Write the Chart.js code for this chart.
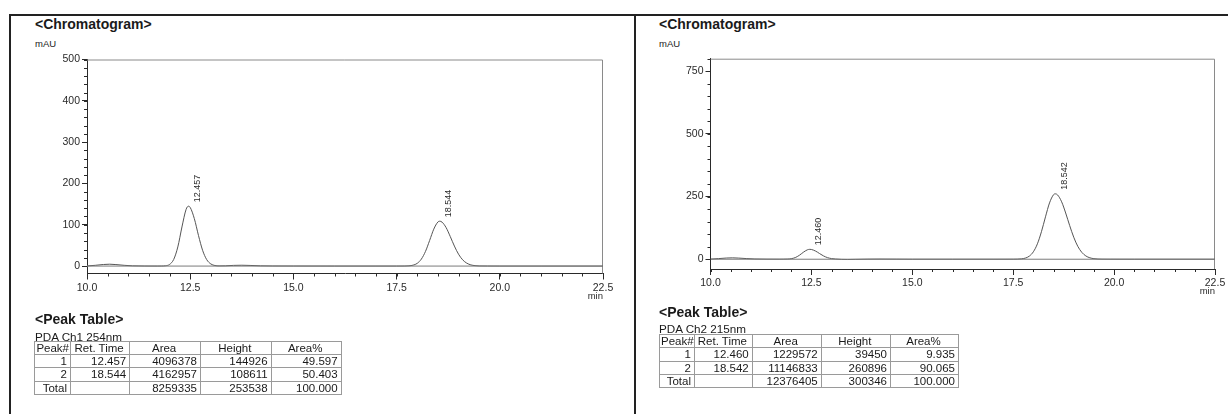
<!DOCTYPE html>
<html>
<head>
<meta charset="utf-8">
<script src="https://cdn.jsdelivr.net/npm/chart.js@4.4.1/dist/chart.umd.min.js"></script>
<style>
  html, body { margin: 0; padding: 0; background: #fff; }
  body {
    width: 1228px; height: 414px; position: relative; overflow: hidden;
    font-family: 'Liberation Sans', Arial, sans-serif; color: #1a1a1a;
  }
  .rule { position: absolute; background: #222; }
  .txt { position: absolute; white-space: nowrap; line-height: 1; }
  .h { font-size: 14px; font-weight: bold; }
  .unit { font-size: 9.5px; }
  .ch { font-size: 11.7px; }
  .chart { position: absolute; }
  table.peaks {
    position: absolute; border-collapse: collapse; table-layout: fixed;
    font-size: 11.5px; color: #1a1a1a;
  }
  table.peaks td {
    border: 1px solid #9a9a9a; height: 12.3px; line-height: 12px;
    padding: 0 3px 0 1px; text-align: right; white-space: nowrap; overflow: hidden;
  }
  table.peaks tr.head td { text-align: center; }
  table.peaks tr.head td:first-child { text-align: right; padding-right: 1px; }
</style>
</head>
<body>

<!-- page frame -->
<div class="rule" style="left:9px; top:14px; width:1219px; height:1.5px;"></div>
<div class="rule" style="left:9px; top:14px; width:1.5px; height:400px;"></div>
<div class="rule" style="left:634px; top:14px; width:1.5px; height:400px;"></div>

<!-- left panel -->
<div class="txt h" style="left:35px; top:16.5px;">&lt;Chromatogram&gt;</div>
<div class="txt unit" style="left:35px; top:38.7px;">mAU</div>
<canvas id="ch1" class="chart" width="610" height="270" style="left:20px; top:45px;"></canvas>

<div class="txt h" style="left:35px; top:311.5px;">&lt;Peak Table&gt;</div>
<div class="txt ch" style="left:35px; top:330.6px;">PDA Ch1 254nm</div>
<table class="peaks" style="left:34.3px; top:340.7px; width:306.4px;">
  <colgroup><col style="width:35.7px"><col style="width:59.3px"><col style="width:70.7px"><col style="width:70.7px"><col style="width:70px"></colgroup>
  <tr class="head"><td>Peak#</td><td>Ret. Time</td><td>Area</td><td>Height</td><td>Area%</td></tr>
  <tr><td>1</td><td>12.457</td><td>4096378</td><td>144926</td><td>49.597</td></tr>
  <tr><td>2</td><td>18.544</td><td>4162957</td><td>108611</td><td>50.403</td></tr>
  <tr><td>Total</td><td></td><td>8259335</td><td>253538</td><td>100.000</td></tr>
</table>

<!-- right panel -->
<div class="txt h" style="left:659px; top:16.5px;">&lt;Chromatogram&gt;</div>
<div class="txt unit" style="left:659px; top:38.7px;">mAU</div>
<canvas id="ch2" class="chart" width="583" height="270" style="left:645px; top:45px;"></canvas>

<div class="txt h" style="left:659px; top:304.8px;">&lt;Peak Table&gt;</div>
<div class="txt ch" style="left:659px; top:323.4px;">PDA Ch2 215nm</div>
<table class="peaks" style="left:659px; top:334px; width:299px;">
  <colgroup><col style="width:35px"><col style="width:57.7px"><col style="width:69px"><col style="width:69.3px"><col style="width:68px"></colgroup>
  <tr class="head"><td>Peak#</td><td>Ret. Time</td><td>Area</td><td>Height</td><td>Area%</td></tr>
  <tr><td>1</td><td>12.460</td><td>1229572</td><td>39450</td><td>9.935</td></tr>
  <tr><td>2</td><td>18.542</td><td>11146833</td><td>260896</td><td>90.065</td></tr>
  <tr><td>Total</td><td></td><td>12376405</td><td>300346</td><td>100.000</td></tr>
</table>

<script>
// PDA Ch1 254nm trace (min, mAU)
const ch1Times = [
  10.0, 10.2, 10.4, 10.55, 10.7, 10.9, 11.1, 11.4, 11.7, 11.8, 11.9,
  12.0, 12.1, 12.2, 12.3, 12.4, 12.457, 12.5, 12.6, 12.7, 12.8, 12.9,
  13.0, 13.1, 13.2, 13.35, 13.55, 13.75, 13.95, 14.2, 14.5, 15.0, 16.0,
  17.0, 17.5, 17.7, 17.8, 17.9, 18.0, 18.1, 18.2, 18.3, 18.4, 18.5,
  18.544, 18.6, 18.7, 18.8, 18.9, 19.0, 19.1, 19.2, 19.3, 19.4, 19.5,
  19.7, 20.0, 21.0, 22.5,
];
const ch1Signal = [
  0.3, 1.8, 3.8, 4.5, 3.6, 1.8, 0.6, 0.1, 0.0, 0.1, 0.7,
  3.9, 16.0, 46.3, 94.6, 137.0, 144.9, 141.9, 114.9, 74.2, 38.2, 15.6,
  5.1, 1.3, 0.4, 0.6, 1.6, 2.0, 1.5, 0.6, 0.2, 0.1, 0.0,
  0.0, 0.0, 0.1, 0.6, 2.2, 6.6, 16.9, 35.5, 61.9, 89.3, 106.6,
  108.6, 106.4, 93.0, 71.5, 48.4, 28.8, 15.1, 7.0, 2.8, 1.0, 0.3,
  0.1, 0.0, 0.0, 0.0,
];
const ch1PeakTimes = [12.457, 18.544];
const ch1PeakHeights = [144.9, 108.6];
const ch1PeakLabels = ['12.457', '18.544'];

// PDA Ch2 215nm trace (min, mAU)
const ch2Times = [
  10.0, 10.2, 10.4, 10.55, 10.7, 10.9, 11.1, 11.4, 11.7, 11.8, 11.9,
  12.0, 12.1, 12.2, 12.3, 12.4, 12.46, 12.5, 12.6, 12.7, 12.8, 12.9,
  13.0, 13.1, 13.25, 13.4, 13.6, 13.9, 14.2, 14.6, 15.0, 16.0, 17.0,
  17.5, 17.6, 17.7, 17.8, 17.9, 18.0, 18.1, 18.2, 18.3, 18.4, 18.5,
  18.542, 18.6, 18.7, 18.8, 18.9, 19.0, 19.1, 19.2, 19.3, 19.4, 19.5,
  19.6, 19.7, 19.9, 20.5, 22.5,
];
const ch2Signal = [
  0.5, 2.5, 4.8, 5.5, 4.5, 2.5, 1.0, 0.3, 0.2, 0.3, 0.7,
  2.1, 6.6, 15.5, 27.7, 37.5, 39.45, 38.9, 32.8, 22.9, 13.2, 6.3,
  2.5, 0.8, -0.8, -1.2, -0.6, 0.3, 0.6, 0.3, 0.0, 0.0, 0.0,
  0.1, 0.4, 1.4, 4.5, 12.4, 29.7, 61.5, 109.9, 169.2, 224.7, 257.5,
  260.9, 256.4, 229.1, 184.5, 133.9, 87.7, 51.6, 27.4, 13.1, 5.7, 2.2,
  0.8, 0.3, 0.1, 0.0, 0.0,
];
const ch2PeakTimes = [12.460, 18.542];
const ch2PeakHeights = [39.45, 260.9];
const ch2PeakLabels = ['12.460', '18.542'];

// zero line drawn under each trace
const baselineTimes = [10.0, 22.5];
const baselineSignal = [0, 0];

const FONT = "'Liberation Sans', Arial, sans-serif";
const INK = '#2a2a2a';

// short ticks between the labelled ones, plus the top/right frame and peak labels
const chromPlugin = {
  id: 'chrom',
  beforeDatasetsDraw(chart) {
    const { ctx, chartArea: a } = chart;
    ctx.save();
    ctx.strokeStyle = '#8a8a8a';
    ctx.lineWidth = 1;
    ctx.beginPath();
    ctx.moveTo(a.left, a.top + 0.5);
    ctx.lineTo(a.right - 0.5, a.top + 0.5);
    ctx.lineTo(a.right - 0.5, a.bottom);
    ctx.stroke();
    ctx.restore();
  },
  afterDraw(chart, args, opts) {
    const { ctx, chartArea: a, scales: { x, y } } = chart;
    ctx.save();
    ctx.strokeStyle = INK;
    ctx.lineWidth = 1;
    ctx.beginPath();
    for (let v = x.min; v <= x.max + 1e-6; v += opts.xMinor) {
      const px = Math.round(x.getPixelForValue(v)) + 0.5;
      ctx.moveTo(px, a.bottom);
      ctx.lineTo(px, a.bottom + 3);
    }
    for (let v = Math.ceil(y.min / opts.yMinor) * opts.yMinor; v <= y.max + 1e-6; v += opts.yMinor) {
      const py = Math.round(y.getPixelForValue(v)) + 0.5;
      ctx.moveTo(a.left, py);
      ctx.lineTo(a.left - 3, py);
    }
    ctx.stroke();

    // retention time labels, rotated above each apex
    ctx.fillStyle = INK;
    ctx.font = `9px ${FONT}`;
    ctx.textAlign = 'left';
    ctx.textBaseline = 'middle';
    opts.peakTimes.forEach((t, i) => {
      const px = x.getPixelForValue(t) + 9;
      const py = y.getPixelForValue(opts.peakHeights[i]) - 4;
      ctx.save();
      ctx.translate(px, py);
      ctx.rotate(-Math.PI / 2);
      ctx.fillText(opts.peakLabels[i], 0, 0);
      ctx.restore();
    });

    // time unit under the last x label
    ctx.font = `9.5px ${FONT}`;
    ctx.textAlign = 'right';
    ctx.textBaseline = 'alphabetic';
    ctx.fillText('min', a.right, a.bottom + 25);
    ctx.restore();
  },
};

function renderChromatogram(id, times, signal, cfg) {
  const canvas = document.getElementById(id);
  const trace = times.map((t, i) => ({ x: t, y: signal[i] }));
  const zero = baselineTimes.map((t, i) => ({ x: t, y: baselineSignal[i] }));

  return new Chart(canvas.getContext('2d'), {
    type: 'line',
    data: {
      datasets: [
        {
          data: zero,
          borderColor: '#7a7a7a',
          borderWidth: 1,
          pointRadius: 0,
        },
        {
          data: trace,
          borderColor: '#555',
          borderWidth: 1,
          pointRadius: 0,
          cubicInterpolationMode: 'monotone',
        },
      ],
    },
    options: {
      responsive: false,
      animation: false,
      devicePixelRatio: 1,
      layout: { padding: cfg.padding },
      plugins: {
        legend: { display: false },
        tooltip: { enabled: false },
        chrom: {
          xMinor: 0.5,
          yMinor: cfg.yMinor,
          peakTimes: cfg.peakTimes,
          peakHeights: cfg.peakHeights,
          peakLabels: cfg.peakLabels,
        },
      },
      scales: {
        x: {
          type: 'linear',
          min: 10,
          max: 22.5,
          afterFit: (scale) => { scale.height = 40; },
          border: { display: true, color: INK, width: 1 },
          grid: { drawOnChartArea: false, drawTicks: true, tickLength: 6, color: INK },
          ticks: {
            stepSize: 2.5,
            includeBounds: false,
            autoSkip: false,
            maxRotation: 0,
            padding: 2,
            color: INK,
            font: { family: FONT, size: 10.5 },
            callback: (v) => Number(v).toFixed(1),
          },
        },
        y: {
          min: cfg.yMin,
          max: cfg.yMax,
          afterFit: (scale) => { scale.width = 40; },
          border: { display: true, color: INK, width: 1 },
          grid: { drawOnChartArea: false, drawTicks: true, tickLength: 5, color: INK },
          ticks: {
            stepSize: cfg.yStep,
            includeBounds: false,
            autoSkip: false,
            padding: 2,
            color: INK,
            font: { family: FONT, size: 10.5 },
          },
        },
      },
    },
    plugins: [chromPlugin],
  });
}

renderChromatogram('ch1', ch1Times, ch1Signal, {
  yMin: -18, yMax: 500, yStep: 100, yMinor: 20,
  padding: { left: 27, right: 27, top: 14.5, bottom: 1.5 },
  peakTimes: ch1PeakTimes, peakHeights: ch1PeakHeights, peakLabels: ch1PeakLabels,
});

renderChromatogram('ch2', ch2Times, ch2Signal, {
  yMin: -39, yMax: 800, yStep: 250, yMinor: 50,
  padding: { left: 25.5, right: 13, top: 13.7, bottom: 6 },
  peakTimes: ch2PeakTimes, peakHeights: ch2PeakHeights, peakLabels: ch2PeakLabels,
});
</script>
</body>
</html>
